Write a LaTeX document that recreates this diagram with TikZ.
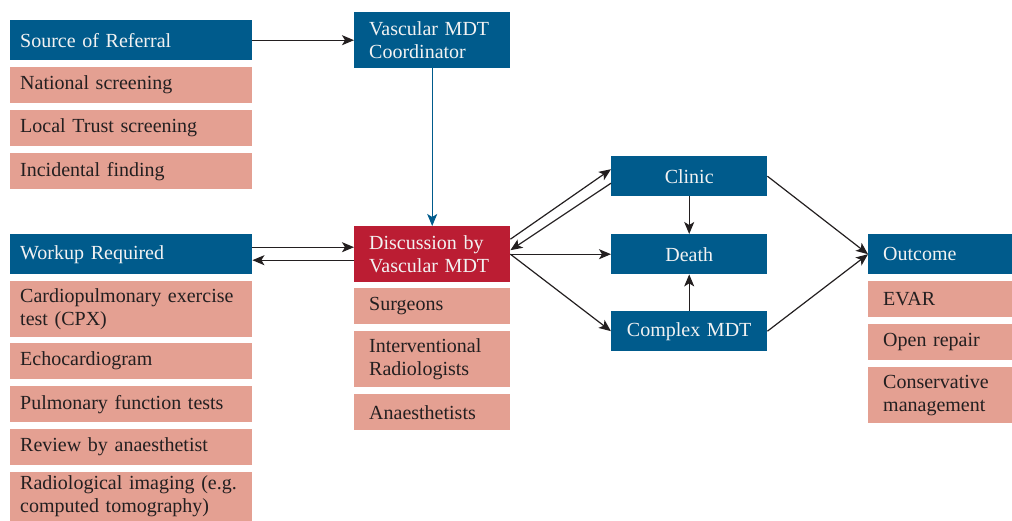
\documentclass[tikz,border=0pt]{standalone}
\usepackage{fontspec}
\setmainfont{Liberation Serif}
\usetikzlibrary{arrows.meta}
\definecolor{mdtblue}{HTML}{005B8C}
\definecolor{mdtred}{HTML}{BB1D33}
\definecolor{mdtpink}{HTML}{E4A092}
\definecolor{mdtink}{HTML}{231F20}
\tikzset{
	box/.style={anchor=north west, inner ysep=0pt, align=left, font=\fontsize{20}{23}\selectfont},
	headbox/.style={box, fill=mdtblue, text=white!95!black},
	itembox/.style={box, fill=mdtpink, text=mdtink},
	leftcol/.style={inner xsep=10pt, text width=222pt},
	midcol/.style={inner xsep=15pt, text width=126pt},
	rightcol/.style={inner xsep=15pt, text width=114pt},
	statebox/.style={headbox, inner xsep=10pt, text width=136pt, align=center, minimum height=40pt},
	flow/.style={draw=mdtink, line width=1.2pt, -{Stealth[length=12pt,width=10pt,inset=3pt]}}
}

\begin{document}
\begin{tikzpicture}[x=1pt, y=-1pt]
		%%%%% START %%%%%
		\useasboundingbox (0, 0) rectangle (1012, 521);
		
		% referral column
		\node[headbox, leftcol, minimum height=40pt] (referral) at (10, 20) {Source of Referral};
		\node[itembox, leftcol, minimum height=36pt] (national) at (10, 67) {National screening};
		\node[itembox, leftcol, minimum height=36pt] (localtrust) at (10, 110) {Local Trust screening};
		\node[itembox, leftcol, minimum height=36pt] (incidental) at (10, 153) {Incidental finding};
		
		% workup column
		\node[headbox, leftcol, minimum height=40pt] (workup) at (10, 234) {Workup Required};
		\node[itembox, leftcol, minimum height=56pt] (cpx) at (10, 281) {Cardiopulmonary exercise\\test (CPX)};
		\node[itembox, leftcol, minimum height=36pt] (echo) at (10, 343) {Echocardiogram};
		\node[itembox, leftcol, minimum height=36pt] (pulmonary) at (10, 386) {Pulmonary function tests};
		\node[itembox, leftcol, minimum height=36pt] (review) at (10, 429) {Review by anaesthetist};
		\node[itembox, leftcol, minimum height=49pt] (imaging) at (10, 472) {Radiological imaging (e.g.\\computed tomography)};
		
		% MDT column
		\node[headbox, midcol, minimum height=56pt] (coordinator) at (354, 12) {Vascular MDT\\Coordinator};
		\node[headbox, midcol, fill=mdtred, minimum height=56pt] (discussion) at (354, 226) {Discussion by\\Vascular MDT};
		\node[itembox, midcol, minimum height=36pt] (surgeons) at (354, 288) {Surgeons};
		\node[itembox, midcol, minimum height=56pt] (radiologists) at (354, 331) {Interventional\\Radiologists};
		\node[itembox, midcol, minimum height=36pt] (anaesthetists) at (354, 394) {Anaesthetists};
		
		% decisions
		\node[statebox] (clinic) at (611, 156) {Clinic};
		\node[statebox] (death) at (611, 234) {Death};
		\node[statebox] (complex) at (611, 311) {Complex MDT};
		
		% outcome column
		\node[headbox, rightcol, minimum height=40pt] (outcome) at (868, 234) {Outcome};
		\node[itembox, rightcol, minimum height=36pt] (evar) at (868, 281) {EVAR};
		\node[itembox, rightcol, minimum height=36pt] (openrepair) at (868, 324) {Open repair};
		\node[itembox, rightcol, minimum height=56pt] (conservative) at (868, 367) {Conservative\\management};
		
		% arrows
		\draw[flow] (referral.east) -- (coordinator.west);
		\draw[flow, draw=mdtblue, line width=1pt] (coordinator.south) -- (discussion.north);
		\draw[flow] ([yshift=7pt]workup.east) -- ([yshift=7pt]discussion.west);
		\draw[flow] ([yshift=-6pt]discussion.west) -- ([yshift=-6pt]workup.east);
		
		\draw[flow] ([yshift=15pt]discussion.east) -- ([yshift=7pt]clinic.west);
		\draw[flow] ([yshift=-7pt]clinic.west) -- ([yshift=4pt]discussion.east);
		\draw[flow] (discussion.east) -- (death.west);
		\draw[flow] (discussion.east) -- (complex.west);
		
		\draw[flow] (clinic.south) -- (death.north);
		\draw[flow] (complex.north) -- (death.south);
		
		\draw[flow] (clinic.east) -- (outcome.west);
		\draw[flow] (complex.east) -- (outcome.west);
		%%%%% END %%%%%
\end{tikzpicture}
\end{document}
